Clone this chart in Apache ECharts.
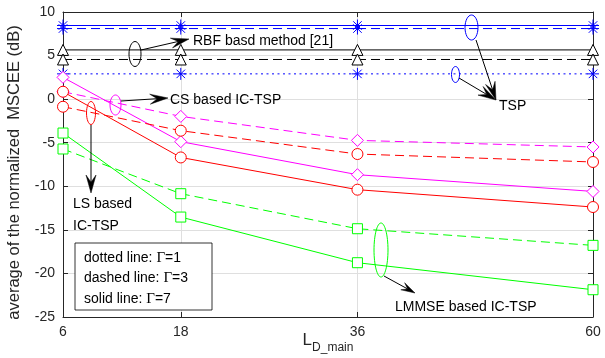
<!DOCTYPE html>
<html>
<head>
<meta charset="utf-8">
<script src="https://cdn.jsdelivr.net/npm/echarts@6/dist/echarts.min.js"></script>
<style>
html, body { margin: 0; padding: 0; background: #fff; }
#chart { width: 605px; height: 358px; }
</style>
</head>
<body>
<div id="chart"></div>
<script>
// x positions (L_D_main)
var lValues = [6, 18, 36, 60];
var yTicks = [-25, 10, 5];

// TSP (blue, asterisk)
var tspSolid = [8.45, 8.45, 8.45, 8.45];
var tspDashed = [8.1, 8.1, 8.1, 8.1];
var tspDotted = [2.9, 2.9, 2.9, 2.9];
// RBF basd method [21] (black, triangle)
var rbfSolid = [5.65, 5.65, 5.65, 5.65];
var rbfDashed = [4.55, 4.55, 4.55, 4.55];
// CS based IC-TSP (magenta, diamond)
var csSolid = [2.5, -4.88, -8.67, -10.59];
var csDashed = [0.85, -1.98, -4.73, -5.49];
// LS based IC-TSP (red, circle)
var lsSolid = [0.85, -6.69, -10.39, -12.38];
var lsDashed = [-0.87, -3.62, -6.3, -7.21];
// LMMSE based IC-TSP (green, square)
var lmmseSolid = [-3.89, -13.53, -18.77, -21.87];
var lmmseDashed = [-5.72, -10.85, -14.87, -16.78];

var FONT = '"Liberation Sans", Arial, Helvetica, sans-serif';
var AXIS_COLOR = '#262626';
var ASTERISK = 'path://M0,-10L0,10M-10,0L10,0M-7.07,-7.07L7.07,7.07M-7.07,7.07L7.07,-7.07';

function pairs(vals) {
    var out = [];
    for (var i = 0; i < lValues.length; i++) {
        out.push([lValues[i], vals[i]]);
    }
    return out;
}

function mkSeries(name, vals, color, symbol, size, type) {
    var dash = type === 'dashed' ? [9, 5] : (type === 'dotted' ? [2, 3.5] : 'solid');
    return {
        name: name,
        type: 'line',
        data: pairs(vals),
        symbol: symbol,
        symbolSize: size,
        showSymbol: true,
        animation: false,
        lineStyle: { color: color, width: 1, type: dash },
        itemStyle: { color: symbol === ASTERISK ? 'none' : '#fff', borderColor: color, borderWidth: 1 },
        emphasis: { disabled: true },
        z: 3
    };
}

function arrow(x1, y1, x2, y2, color, len, wid) {
    var a = Math.atan2(y2 - y1, x2 - x1);
    var cos = Math.cos(a), sin = Math.sin(a);
    var bx = x2 - len * cos, by = y2 - len * sin;
    var nx = x2 - len * 0.6 * cos, ny = y2 - len * 0.6 * sin;
    var px = -sin * wid / 2, py = cos * wid / 2;
    return [
        { type: 'line', shape: { x1: x1, y1: y1, x2: nx, y2: ny }, style: { stroke: color, lineWidth: 1 }, z: 20 },
        { type: 'polygon', shape: { points: [[x2, y2], [bx + px, by + py], [nx, ny], [bx - px, by - py]] }, style: { fill: color, stroke: color, lineWidth: 0.5 }, z: 20 }
    ];
}

function ellipse(cx, cy, rx, ry, color) {
    return { type: 'ellipse', shape: { cx: cx, cy: cy, rx: rx, ry: ry }, style: { fill: 'none', stroke: color, lineWidth: 1 }, z: 20 };
}

function label(x, y, text) {
    return { type: 'text', x: x, y: y, style: { text: text, font: '14px ' + FONT, fill: '#000', verticalAlign: 'middle' }, z: 21 };
}

var graphics = [];
// RBF
graphics.push(ellipse(135, 54, 6, 12.5, '#000'));
graphics = graphics.concat(arrow(141, 50, 189, 39, '#000', 18, 10));
graphics.push(label(193, 41, 'RBF basd method [21]'));
// CS
graphics.push(ellipse(115.5, 105, 5.5, 10, '#ff00ff'));
graphics = graphics.concat(arrow(121, 101, 168, 98, '#000', 18, 10));
graphics.push(label(170, 100, 'CS based IC-TSP'));
// LS
graphics.push(ellipse(91, 113, 4.5, 11.5, '#ff0000'));
graphics = graphics.concat(arrow(91, 125, 91, 193, '#000', 18, 10));
graphics.push(label(73, 204, 'LS based'));
graphics.push(label(73, 226, 'IC-TSP'));
// TSP
graphics.push(ellipse(471.5, 27.5, 6.5, 12.5, '#0000ff'));
graphics.push(ellipse(455.5, 74.5, 4, 8, '#0000ff'));
graphics = graphics.concat(arrow(476, 40, 496, 100, '#000', 18, 10));
graphics = graphics.concat(arrow(459, 78, 496, 100, '#000', 18, 10));
graphics.push(label(499, 106, 'TSP'));
// LMMSE
graphics.push(ellipse(381, 250, 7, 27, '#00ff00'));
graphics = graphics.concat(arrow(384, 276, 415, 293, '#000', 14, 8));
graphics.push(label(395, 307, 'LMMSE based IC-TSP'));
// line-style legend box
graphics.push({ type: 'rect', shape: { x: 75, y: 243, width: 137, height: 67 }, style: { fill: '#fff', stroke: '#000', lineWidth: 0.8 }, z: 20 });
var boxLines = [['dotted line: ', '1', 258], ['dashed line: ', '3', 278], ['solid line: ', '7', 299]];
for (var k = 0; k < boxLines.length; k++) {
    graphics.push({
        type: 'text', x: 84, y: boxLines[k][2], z: 21,
        style: {
            text: boxLines[k][0] + '{g|Γ}=' + boxLines[k][1],
            font: '14px ' + FONT, fill: '#000', verticalAlign: 'middle',
            rich: { g: { fontFamily: '"Liberation Serif", "DejaVu Serif", serif', fontSize: 15 } }
        }
    });
}

var series = [
    mkSeries('TSP solid', tspSolid, '#0000ff', ASTERISK, 12, 'solid'),
    mkSeries('TSP dashed', tspDashed, '#0000ff', ASTERISK, 12, 'dashed'),
    mkSeries('TSP dotted', tspDotted, '#0000ff', ASTERISK, 12, 'dotted'),
    mkSeries('RBF solid', rbfSolid, '#000000', 'triangle', 11, 'solid'),
    mkSeries('RBF dashed', rbfDashed, '#000000', 'triangle', 11, 'dashed'),
    mkSeries('CS solid', csSolid, '#ff00ff', 'diamond', 12, 'solid'),
    mkSeries('CS dashed', csDashed, '#ff00ff', 'diamond', 12, 'dashed'),
    mkSeries('LS solid', lsSolid, '#ff0000', 'circle', 11, 'solid'),
    mkSeries('LS dashed', lsDashed, '#ff0000', 'circle', 11, 'dashed'),
    mkSeries('LMMSE solid', lmmseSolid, '#00ff00', 'rect', 10, 'solid'),
    mkSeries('LMMSE dashed', lmmseDashed, '#00ff00', 'rect', 10, 'dashed')
];

var axisLine = { show: true, onZero: false, lineStyle: { color: AXIS_COLOR, width: 1 } };
var option = {
    backgroundColor: '#fff',
    animation: false,
    grid: { left: 63, right: 12, top: 12, bottom: 41, containLabel: false, outerBoundsMode: 'none' },
    xAxis: [{
        type: 'value', min: 6, max: 60, position: 'bottom',
        axisLine: axisLine,
        axisTick: { show: true, inside: true, length: 5, customValues: lValues, lineStyle: { color: AXIS_COLOR } },
        axisLabel: { customValues: lValues, color: AXIS_COLOR, fontFamily: FONT, fontSize: 14, margin: 8 },
        splitLine: { show: true, lineStyle: { color: '#dfdfdf', width: 1 } },
        name: '{l|L}{s|D_main}',
        nameLocation: 'middle', nameGap: 15, nameMoveOverlap: false,
        nameTextStyle: {
            rich: {
                l: { fontFamily: FONT, fontSize: 17, color: AXIS_COLOR, verticalAlign: 'top' },
                s: { fontFamily: FONT, fontSize: 12, color: AXIS_COLOR, verticalAlign: 'bottom', padding: [10, 0, 0, 0] }
            }
        }
    }, {
        type: 'value', min: 6, max: 60, position: 'top',
        axisLine: axisLine,
        axisTick: { show: true, inside: true, length: 5, customValues: lValues, lineStyle: { color: AXIS_COLOR } },
        axisLabel: { show: false },
        splitLine: { show: false }
    }],
    yAxis: [{
        type: 'value', min: yTicks[0], max: yTicks[1], interval: yTicks[2], position: 'left',
        axisLine: axisLine,
        axisTick: { show: true, inside: true, length: 5, lineStyle: { color: AXIS_COLOR } },
        axisLabel: { color: AXIS_COLOR, fontFamily: FONT, fontSize: 14, margin: 8 },
        splitLine: { show: true, lineStyle: { color: '#dfdfdf', width: 1 } },
        name: 'average of the normalized  MSCEE (dB)',
        nameLocation: 'middle', nameGap: 40, nameMoveOverlap: false,
        nameTextStyle: { fontFamily: FONT, fontSize: 16.5, color: AXIS_COLOR, padding: [0, 16, 0, 0] }
    }, {
        type: 'value', min: yTicks[0], max: yTicks[1], interval: yTicks[2], position: 'right',
        axisLine: axisLine,
        axisTick: { show: true, inside: true, length: 5, lineStyle: { color: AXIS_COLOR } },
        axisLabel: { show: false },
        splitLine: { show: false }
    }],
    series: series,
    graphic: graphics
};

var chart = echarts.init(document.getElementById('chart'), null, { renderer: 'canvas' });
chart.setOption(option);
</script>
</body>
</html>
